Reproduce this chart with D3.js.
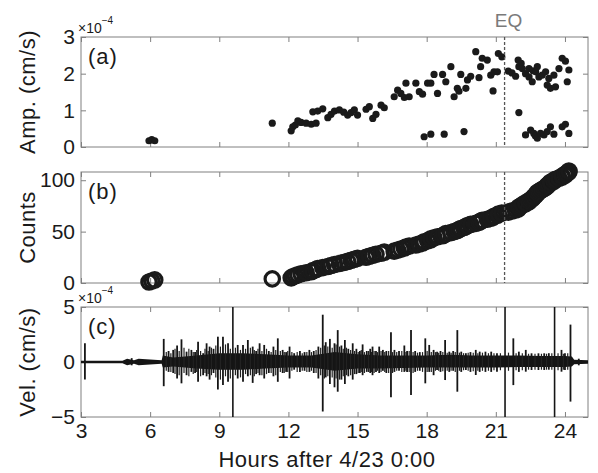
<!DOCTYPE html>
<html>
<head>
<meta charset="utf-8">
<script src="https://cdn.jsdelivr.net/npm/d3@7/dist/d3.min.js"></script>
<style>
  body { margin: 0; background: #fff; }
  svg text { font-family: "Liberation Sans", Arial, sans-serif; fill: #1a1a1a; }
</style>
</head>
<body>
<div id="chart"></div>
<script>
// event times (hours after 4/23 0:00) and amplitudes (x10^-4 cm/s), panel (a)
const eventHours = [5.95, 6.07, 6.20, 11.30, 12.12, 12.19, 12.30, 12.41, 12.55, 12.77, 12.99, 13.06, 13.20, 13.27,
  13.49, 13.71, 13.85, 14.00, 14.21, 14.40, 14.57, 14.72, 14.86, 15.00, 15.37, 15.51, 15.66, 15.80, 16.02, 16.16,
  16.59, 16.74, 16.88, 17.03, 17.10, 17.24, 17.53, 17.68, 17.82, 17.89, 18.04, 18.18, 18.18, 18.32, 18.47, 18.69,
  18.76, 18.83, 19.05, 19.19, 19.33, 19.40, 19.48, 19.62, 19.70, 19.77, 19.91, 20.13, 20.27, 20.34, 20.41, 20.63,
  20.78, 20.88, 20.92, 21.07, 21.11, 21.26,
  21.54, 21.70, 21.86, 21.97, 22.00, 22.00, 22.10, 22.15, 22.29, 22.29, 22.44, 22.44, 22.51, 22.58, 22.62, 22.65,
  22.72, 22.73, 22.80, 22.80, 22.87, 22.94, 23.01, 23.09, 23.16, 23.23, 23.23, 23.30, 23.37, 23.37, 23.52, 23.52,
  23.59, 23.74, 23.88, 23.88, 24.02, 24.02, 24.10, 24.17, 24.17];
const eventAmp = [0.17, 0.20, 0.17, 0.65, 0.44, 0.55, 0.60, 0.71, 0.67, 0.65, 0.62, 0.96, 0.65, 0.98,
  1.04, 0.80, 0.89, 0.98, 1.01, 0.95, 0.87, 0.94, 1.01, 0.87, 1.03, 1.10, 0.78, 0.89, 1.14, 1.07,
  1.37, 1.55, 1.46, 1.35, 1.74, 1.37, 1.74, 1.51, 1.44, 0.28, 1.74, 1.74, 0.35, 1.98, 1.46, 1.98,
  0.35, 1.78, 2.19, 1.37, 1.60, 1.52, 1.98, 0.42, 1.60, 1.83, 1.93, 2.60, 1.89, 2.19, 2.42, 2.37,
  1.96, 1.53, 2.05, 2.05, 2.55, 2.46,
  2.07, 2.02, 1.93, 2.37, 0.94, 2.19, 2.28, 2.14, 2.00, 0.33, 2.14, 1.91, 0.46, 1.78, 2.08, 0.37,
  0.30, 2.05, 2.19, 0.24, 1.91, 0.37, 1.96, 0.33, 2.05, 1.69, 0.42, 1.87, 1.60, 0.55, 1.96, 0.35,
  1.64, 2.14, 2.42, 0.55, 2.34, 0.62, 1.78, 2.10, 0.37];

const eqHour = 21.38;

// panel (c) velocity trace: dark core envelope (x10^-4 cm/s)
const bandHours = [3.0, 4.8, 5.0, 5.3, 5.5, 6.5, 6.55, 7.0, 8.0, 9.0, 10.0, 11.0, 12.0, 13.0, 14.0, 15.0,
  16.0, 17.0, 18.0, 19.0, 20.0, 21.0, 22.0, 23.0, 24.0, 24.3, 24.4, 25.0];
const bandUp = [0.12, 0.12, 0.3, 0.15, 0.3, 0.15, 0.6, 0.4, 0.6, 0.8, 0.8, 0.7, 0.6, 0.6, 0.9, 0.7,
  0.6, 0.6, 0.6, 0.65, 0.6, 0.6, 0.6, 0.55, 0.55, 0.5, 0.2, 0.15];
const bandDown = [-0.12, -0.12, -0.3, -0.15, -0.3, -0.15, -0.5, -0.4, -0.6, -0.7, -0.7, -0.6, -0.5, -0.5, -0.8, -0.6,
  -0.6, -0.55, -0.5, -0.5, -0.5, -0.5, -0.45, -0.45, -0.45, -0.4, -0.2, -0.15];

// panel (c) distinct spikes: hour, positive peak, negative peak
const spikeHours = [3.17, 5.2, 6.59, 6.8, 7.0, 7.17, 7.36, 7.58, 7.79, 7.95, 8.08, 8.3, 8.45, 8.58, 8.75, 8.94,
  9.16, 9.38, 9.59, 9.8, 10.03, 10.24, 10.45, 10.6, 10.75, 10.95, 11.15, 11.35, 11.54, 11.75, 11.9, 12.05,
  12.25, 12.5, 12.7, 12.91, 13.1, 13.3, 13.49, 13.62, 13.8, 14.0, 14.14, 14.3, 14.45, 14.6, 14.79, 14.95,
  15.1, 15.22, 15.4, 15.55, 15.65, 15.8, 15.94, 16.1, 16.25, 16.45, 16.6, 16.8, 17.03, 17.15, 17.32, 17.5,
  17.7, 17.94, 18.11, 18.3, 18.45, 18.6, 18.8, 18.98, 19.15, 19.33, 19.5, 19.7, 19.9, 20.13, 20.3, 20.55,
  20.8, 21.05, 21.4, 21.76, 22.0, 22.3, 22.55, 22.85, 23.1, 23.3, 23.55, 23.85, 24.0, 24.24, 24.6];
const spikeUp = [1.7, 0.35, 2.1, 1.0, 1.1, 1.5, 2.06, 0.94, 1.1, 0.9, 1.85, 0.8, 1.7, 1.4, 1.2, 2.3,
  2.3, 1.7, 6, 1.55, 1.55, 2.0, 1.4, 1.0, 1.7, 1.55, 1.0, 1.4, 2.15, 1.1, 0.9, 1.4,
  0.8, 1.0, 0.9, 1.1, 1.0, 1.4, 4.3, 1.8, 2.1, 1.7, 2.9, 1.5, 2.0, 1.2, 1.7, 1.2,
  1.0, 1.6, 1.0, 1.2, 1.4, 1.0, 1.4, 1.1, 1.0, 2.7, 1.1, 1.0, 1.5, 1.0, 2.9, 1.0,
  0.9, 2.15, 1.55, 1.1, 0.94, 1.0, 2.0, 0.94, 1.0, 2.9, 0.94, 0.8, 0.9, 1.1, 0.94, 0.94,
  0.94, 0.79, 6, 2.15, 0.94, 1.1, 0.79, 0.79, 0.79, 0.8, 6, 1.1, 0.79, 3.4, 0.3];
const spikeDown = [-1.6, -0.3, -2.2, -0.9, -1.0, -1.5, -1.94, -1.2, -0.9, -1.0, -1.8, -1.2, -1.3, -1.6, -1.0, -2.5,
  -2.1, -1.8, -6, -1.5, -1.8, -1.3, -1.9, -1.1, -1.2, -1.5, -1.0, -1.3, -1.8, -1.0, -0.9, -1.5,
  -0.7, -0.9, -0.8, -0.9, -1.0, -1.5, -4.5, -1.4, -2.0, -2.3, -2.7, -1.6, -2.0, -1.3, -1.6, -1.1,
  -1.0, -1.2, -0.9, -1.0, -1.2, -0.9, -1.0, -0.8, -1.0, -3.2, -0.9, -0.8, -0.9, -0.9, -3.0, -0.9,
  -0.8, -1.94, -0.9, -1.2, -0.73, -0.9, -1.64, -0.9, -0.8, -2.7, -0.9, -0.73, -0.9, -1.18, -0.9, -0.9,
  -0.9, -0.88, -6, -2.1, -0.9, -0.88, -0.73, -0.73, -0.73, -0.7, -6, -0.88, -0.73, -3.6, -0.3];

// panel (c) smaller oscillations between the spikes
const minorHours = [6.7, 6.9, 7.08, 7.26, 7.47, 7.68, 7.87, 8.02, 8.19, 8.38, 8.52, 8.66, 8.85, 9.05, 9.27, 9.48,
  9.7, 9.92, 10.14, 10.35, 10.52, 10.68, 10.85, 11.05, 11.25, 11.45, 11.65, 11.82, 11.97, 12.15, 12.38, 12.6,
  12.8, 13.0, 13.2, 13.4, 13.56, 13.71, 13.9, 14.07, 14.22, 14.38, 14.52, 14.7, 14.87, 15.03, 15.16, 15.3,
  15.48, 15.6, 15.72, 15.87, 16.02, 16.18, 16.35, 16.52, 16.7, 16.92, 17.1, 17.24, 17.41, 17.6, 17.82, 18.02,
  18.2, 18.38, 18.52, 18.7, 18.89, 19.06, 19.24, 19.42, 19.6, 19.8, 20.02, 20.22, 20.42, 20.68, 20.92, 21.2,
  21.55, 21.88, 22.15, 22.42, 22.7, 22.98, 23.2, 23.43, 23.7, 23.93, 24.12];
const minorUp = [0.9, 0.8, 1.2, 1.0, 1.3, 1.2, 0.9, 1.1, 1.0, 1.2, 1.0, 1.3, 1.5, 1.4, 1.6, 1.2,
  1.3, 1.1, 1.2, 1.3, 1.1, 1.2, 1.0, 1.2, 0.9, 1.1, 1.0, 0.9, 1.0, 0.9, 0.9, 0.8,
  0.9, 0.9, 1.1, 1.3, 1.5, 1.4, 1.3, 1.6, 1.4, 1.2, 1.3, 1.1, 1.0, 0.9, 1.1, 0.9,
  1.0, 0.9, 1.0, 0.9, 1.0, 0.9, 1.0, 0.9, 0.9, 1.0, 0.9, 1.0, 0.9, 0.85, 0.9, 1.0,
  0.9, 0.9, 0.85, 0.9, 0.85, 0.85, 0.9, 0.85, 0.8, 0.85, 0.85, 0.8, 0.85, 0.8, 0.8, 0.8,
  0.85, 0.8, 0.8, 0.75, 0.75, 0.75, 0.75, 0.8, 0.8, 0.75, 0.8];
const minorDown = [-0.8, -0.9, -1.1, -1.2, -1.0, -1.3, -1.1, -0.9, -1.3, -1.0, -1.1, -1.2, -1.4, -1.6, -1.3, -1.5,
  -1.2, -1.4, -1.1, -1.2, -1.3, -1.0, -1.2, -1.1, -1.0, -1.2, -0.9, -1.0, -0.9, -0.8, -0.9, -0.8,
  -0.9, -0.8, -1.0, -1.2, -1.5, -1.3, -1.4, -1.5, -1.6, -1.3, -1.2, -1.2, -1.1, -1.0, -0.9, -1.0,
  -0.9, -0.9, -1.0, -0.8, -0.9, -0.9, -1.0, -1.0, -0.8, -0.9, -0.8, -0.9, -1.0, -0.8, -0.9, -0.9,
  -0.9, -0.8, -0.8, -0.85, -0.8, -0.8, -0.9, -0.8, -0.75, -0.8, -0.85, -0.8, -0.8, -0.8, -0.75, -0.75,
  -0.8, -0.75, -0.75, -0.7, -0.7, -0.7, -0.7, -0.7, -0.75, -0.7, -0.7];

const xTicks = [3, 6, 9, 12, 15, 18, 21, 24];

const width = 598, height = 473;
const svg = d3.select("#chart").append("svg")
  .attr("width", width).attr("height", height);

const x = d3.scaleLinear().domain([3, 25]).range([81, 588]);

const panels = [
  { id: "a", top: 37, bottom: 147, domain: [0, 3], ticks: [0, 1, 2, 3], label: "Amp. (cm/s)", exp: true },
  { id: "b", top: 172, bottom: 283, domain: [0, 108], ticks: [0, 50, 100], label: "Counts", exp: false },
  { id: "c", top: 307, bottom: 417, domain: [-5, 5], ticks: [-5, 0, 5], label: "Vel. (cm/s)", exp: true }
];

const frameColor = "#808080";

panels.forEach(p => {
  p.y = d3.scaleLinear().domain(p.domain).range([p.bottom, p.top]);
  const g = svg.append("g").attr("class", "panel-" + p.id);
  p.g = g;

  g.append("clipPath").attr("id", "clip-" + p.id)
    .append("rect").attr("x", x.range()[0]).attr("y", p.top)
    .attr("width", x.range()[1] - x.range()[0]).attr("height", p.bottom - p.top);

  // ticks point inward on all four sides
  const xb = g.append("g").attr("transform", `translate(0,${p.bottom})`)
    .call(d3.axisBottom(x).tickValues(xTicks).tickSize(-5).tickPadding(6)
      .tickFormat(p.id === "c" ? d3.format("d") : ""));
  const xt = g.append("g").attr("transform", `translate(0,${p.top})`)
    .call(d3.axisTop(x).tickValues(xTicks).tickSize(-5).tickFormat(""));
  const yl = g.append("g").attr("transform", `translate(${x.range()[0]},0)`)
    .call(d3.axisLeft(p.y).tickValues(p.ticks).tickSize(-5).tickPadding(6).tickFormat(d3.format("d")));
  const yr = g.append("g").attr("transform", `translate(${x.range()[1]},0)`)
    .call(d3.axisRight(p.y).tickValues(p.ticks).tickSize(-5).tickFormat(""));

  [xb, xt, yl, yr].forEach(a => {
    a.select(".domain").remove();
    a.selectAll(".tick line").attr("stroke", frameColor);
    a.selectAll(".tick text").attr("font-size", 21).attr("fill", "#1a1a1a")
      .attr("font-family", "Liberation Sans, Arial, sans-serif");
  });

  g.append("rect")
    .attr("x", x.range()[0]).attr("y", p.top)
    .attr("width", x.range()[1] - x.range()[0]).attr("height", p.bottom - p.top)
    .attr("fill", "none").attr("stroke", frameColor).attr("stroke-width", 1);

  g.append("text")
    .attr("transform", `translate(35,${(p.top + p.bottom) / 2}) rotate(-90)`)
    .attr("text-anchor", "middle")
    .attr("font-size", 22)
    .attr("letter-spacing", 0.5)
    .text(p.label);

  g.append("text")
    .attr("x", 88).attr("y", p.top + 27)
    .attr("font-size", 22)
    .attr("letter-spacing", 1)
    .text("(" + p.id + ")");

  if (p.exp) {
    const t = g.append("text").attr("x", 78).attr("y", p.top - 4).attr("font-size", 14);
    t.append("tspan").text("\u00d710");
    t.append("tspan").attr("dy", -9).attr("font-size", 10).text("\u22124");
  }
});

// panel (a): amplitudes
const pa = panels[0];
pa.g.append("g").selectAll("circle")
  .data(eventHours.map((h, i) => ({ h: h, v: eventAmp[i] })))
  .join("circle")
  .attr("cx", d => x(d.h)).attr("cy", d => pa.y(d.v))
  .attr("r", 3.6).attr("fill", "#1a1a1a");

// panel (b): cumulative count of the same events
const pb = panels[1];
pb.g.append("g").selectAll("circle")
  .data(eventHours.map((h, i) => ({ h: h, n: i + 1 })))
  .join("circle")
  .attr("cx", d => x(d.h)).attr("cy", d => pb.y(d.n))
  .attr("r", 7.2).attr("fill", "none")
  .attr("stroke", "#1a1a1a").attr("stroke-width", 3.2);

// EQ dashed lines on (a) and (b)
[pa, pb].forEach(p => {
  p.g.append("line")
    .attr("x1", x(eqHour)).attr("x2", x(eqHour))
    .attr("y1", p.top).attr("y2", p.bottom)
    .attr("stroke", "#555").attr("stroke-width", 1.3)
    .attr("stroke-dasharray", "3,2");
});
svg.append("text")
  .attr("x", x(eqHour) + 4).attr("y", 27)
  .attr("text-anchor", "middle")
  .attr("font-size", 19)
  .style("fill", "#7a7a7a")
  .text("EQ");

// panel (c): velocity trace
const pc = panels[2];
const trace = pc.g.append("g").attr("clip-path", "url(#clip-c)");
const band = bandHours.map((h, i) => ({ h: h, up: bandUp[i], down: bandDown[i] }));
trace.append("path")
  .datum(band)
  .attr("d", d3.area().x(d => x(d.h)).y0(d => pc.y(d.down)).y1(d => pc.y(d.up)))
  .attr("fill", "#151515");
trace.selectAll("line.minor")
  .data(minorHours.map((h, i) => ({ h: h, up: minorUp[i], down: minorDown[i] })))
  .join("line")
  .attr("class", "minor")
  .attr("x1", d => x(d.h)).attr("x2", d => x(d.h))
  .attr("y1", d => pc.y(d.up)).attr("y2", d => pc.y(d.down))
  .attr("stroke", "#222").attr("stroke-width", 1.2);
trace.selectAll("line.spike")
  .data(spikeHours.map((h, i) => ({ h: h, up: spikeUp[i], down: spikeDown[i] })))
  .join("line")
  .attr("class", "spike")
  .attr("x1", d => x(d.h)).attr("x2", d => x(d.h))
  .attr("y1", d => pc.y(d.up)).attr("y2", d => pc.y(d.down))
  .attr("stroke", "#151515").attr("stroke-width", d => Math.abs(d.up) >= 6 ? 1.6 : 1.8);

// x label
svg.append("text")
  .attr("x", 327).attr("y", 467)
  .attr("text-anchor", "middle")
  .attr("font-size", 22)
  .attr("letter-spacing", 0.5)
  .text("Hours after 4/23 0:00");
</script>
</body>
</html>
